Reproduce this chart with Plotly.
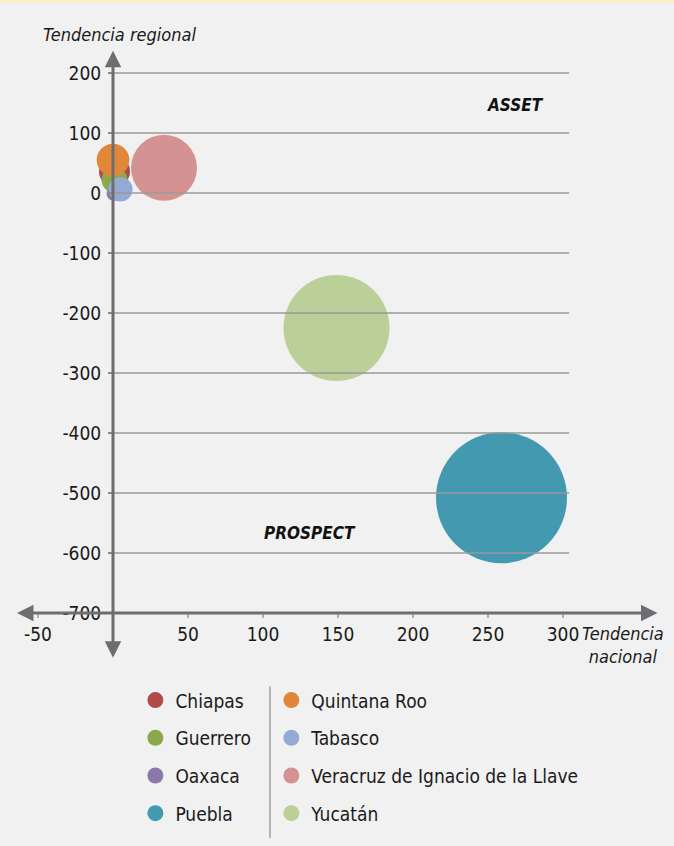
import plotly.graph_objects as go

# datos
estados = ["Chiapas", "Guerrero", "Oaxaca", "Puebla", "Quintana Roo", "Tabasco",
           "Veracruz de Ignacio de la Llave", "Yucatán"]
tendencia_nacional = [1, 1, 0.5, 259, 0, 5, 34, 149]
tendencia_regional = [36, 22, -1, -508, 55, 6, 42, -225]
tamano = [5.6, 3.9, 1.2, 100, 6.2, 3.4, 25.4, 65.5]
colores = ["#B04A48", "#8BA94B", "#8B78A8", "#4399B0", "#E0873A", "#93AAD4",
           "#D49293", "#BBCF98"]

x_ticks = [-50, 50, 100, 150, 200, 250, 300]
y_ticks = [200, 100, 0, -100, -200, -300, -400, -500, -600, -700]

FONT = "DejaVu Sans Condensed, Liberation Sans Narrow, sans-serif"
GRIS_EJE = "#6D6E71"
MAX_D = 131  # diámetro en px de la burbuja más grande
sizeref = 2.0 * max(tamano) / MAX_D ** 2

fig = go.Figure()

# burbujas
for i, est in enumerate(estados):
    fig.add_trace(go.Scatter(
        x=[tendencia_nacional[i]],
        y=[tendencia_regional[i]],
        mode='markers',
        name=est,
        legendgroup=est,
        showlegend=False,
        marker=dict(
            size=[tamano[i]],
            sizemode='area',
            sizeref=sizeref,
            color=colores[i],
            opacity=1,
            line=dict(width=0)
        ),
        hovertemplate=f'<b>{est}</b><br>Nacional: %{{x}}<br>Regional: %{{y}}<extra></extra>'
    ))

# entradas de la leyenda (dos columnas)
for i, est in enumerate(estados):
    fig.add_trace(go.Scatter(
        x=[None],
        y=[None],
        mode='markers',
        name=est,
        legend='legend' if i < 4 else 'legend2',
        legendgroup=est,
        marker=dict(size=16, color=colores[i], opacity=1),
        hoverinfo='skip'
    ))

# líneas de cuadrícula por encima de las burbujas
shapes = []
for yv in y_ticks[:-1]:
    shapes.append(dict(type='line', xref='x', yref='y', x0=0, x1=304, y0=yv, y1=yv,
                       line=dict(color='#9A9A9A', width=1.5), layer='above'))

# franja amarilla superior y separador de la leyenda
shapes.append(dict(type='rect', xref='paper', yref='paper', x0=-0.02, x1=1.02,
                   y0=1.0245, y1=1.03, fillcolor='#FCEFC6', line=dict(width=0)))
shapes.append(dict(type='line', xref='paper', yref='paper', x0=0.397, x1=0.397,
                   y0=-0.011, y1=-0.241, line=dict(color='#B5B5B5', width=2)))

annotations = [
    # ejes con flechas
    dict(x=0, y=237, ax=0, ay=-777, xref='x', yref='y', axref='x', ayref='y',
         text='', showarrow=True, arrowhead=2, arrowside='end+start',
         arrowsize=1.1, arrowwidth=3, arrowcolor=GRIS_EJE),
    dict(x=363, y=-700, ax=-65, ay=-700, xref='x', yref='y', axref='x', ayref='y',
         text='', showarrow=True, arrowhead=2, arrowside='end+start',
         arrowsize=1.1, arrowwidth=3, arrowcolor=GRIS_EJE),
    dict(x=4, y=265, xref='x', yref='y', text='<i>Tendencia regional</i>',
         showarrow=False, font=dict(size=18, color='#1a1a1a', family=FONT)),
    dict(x=340, y=-753, xref='x', yref='y', text='<i>Tendencia<br>nacional</i>',
         showarrow=False, font=dict(size=18, color='#1a1a1a', family=FONT)),
    dict(x=268, y=147, xref='x', yref='y', text='<b><i>ASSET</i></b>',
         showarrow=False, font=dict(size=17, color='#111111', family=FONT)),
    dict(x=131, y=-567, xref='x', yref='y', text='<b><i>PROSPECT</i></b>',
         showarrow=False, font=dict(size=17, color='#111111', family=FONT)),
]

leyenda = dict(
    orientation='v',
    yanchor='top',
    y=-0.0034,
    xanchor='left',
    bgcolor='rgba(0,0,0,0)',
    font=dict(size=19, color='#1a1a1a', family=FONT),
    tracegroupgap=10,
    itemsizing='trace',
)

fig.update_layout(
    width=674,
    height=846,
    margin=dict(l=8, r=6, t=19, b=167),
    paper_bgcolor='#F1F1F1',
    plot_bgcolor='#F1F1F1',
    font=dict(family=FONT, size=19, color='#1a1a1a'),
    showlegend=True,
    legend=dict(leyenda, x=0.193),
    legend2=dict(leyenda, x=0.399),
    xaxis=dict(
        range=[-70, 370],
        domain=[0, 1],
        anchor='free',
        position=0.1,
        tickvals=x_ticks,
        ticktext=[str(v) for v in x_ticks],
        ticks='outside',
        ticklen=4,
        tickwidth=1.5,
        tickcolor='#B0B0B0',
        showgrid=False,
        zeroline=False,
        showline=False,
        tickfont=dict(size=19, family=FONT, color='#1a1a1a'),
        fixedrange=True
    ),
    yaxis=dict(
        range=[-810, 290],
        domain=[0, 1],
        anchor='free',
        position=70 / 440,
        tickvals=y_ticks,
        ticktext=[str(v) for v in y_ticks],
        ticks='outside',
        ticklen=5,
        tickwidth=1.5,
        tickcolor='#8A8A8A',
        ticklabelstandoff=3,
        showgrid=False,
        zeroline=False,
        showline=False,
        tickfont=dict(size=19, family=FONT, color='#1a1a1a'),
        fixedrange=True
    ),
    shapes=shapes,
    annotations=annotations,
    hovermode='closest'
)

# quitar el margen por defecto del <body> para que la figura ocupe toda la ventana
fig.write_html("out.html", config={'displayModeBar': False},
               post_script="document.body.style.margin='0';")
